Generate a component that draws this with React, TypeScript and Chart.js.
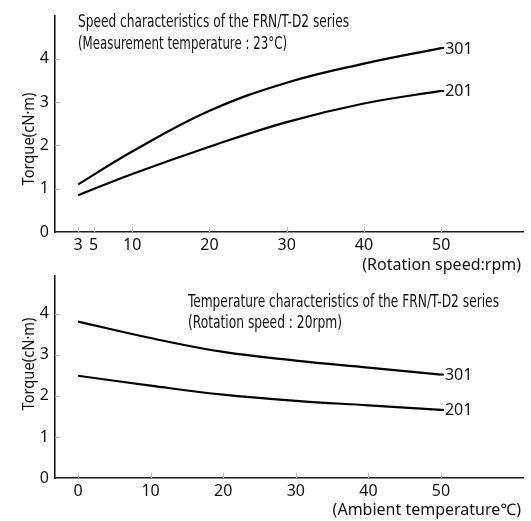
import React, { useEffect, useRef } from "react";
import { Chart, registerables } from "chart.js";

Chart.register(...registerables);

// ---- Data: speed characteristics (top) ----
const speedRpm = [3, 10, 20, 30, 40, 50];
const speedTorque301 = [1.1, 1.86, 2.8, 3.45, 3.89, 4.25];
const speedTorque201 = [0.85, 1.34, 1.97, 2.54, 2.97, 3.26];
const speedXTicks = [3, 5, 10, 20, 30, 40, 50];

// ---- Data: temperature characteristics (bottom) ----
const ambientTemp = [0, 10, 20, 30, 40, 50];
const tempTorque301 = [3.81, 3.41, 3.07, 2.86, 2.69, 2.52];
const tempTorque201 = [2.49, 2.25, 2.03, 1.88, 1.77, 1.66];
const tempXTicks = [0, 10, 20, 30, 40, 50];

const yTicks = [0, 1, 2, 3, 4];
const seriesNames = ["301", "201"];

const TICK_FONT = "'Noto Sans', 'DejaVu Sans', sans-serif";
const NARROW_FONT = "'Liberation Sans Narrow', 'DejaVu Sans Condensed', 'Noto Sans', sans-serif";

type TextItem = {
  text: string;
  x: number;
  y: number;
  font: string;
  align: CanvasTextAlign;
  maxWidth?: number;
  rotate?: boolean;
};

function makeAnnotPlugin(texts: TextItem[]) {
  return {
    id: "annot",
    afterDraw(chart: any) {
      const ctx: CanvasRenderingContext2D = chart.ctx;
      const xs = chart.scales.x;
      const ys = chart.scales.y;
      const area = chart.chartArea;
      ctx.save();
      // faint inner tick marks
      ctx.strokeStyle = "#b8b8b8";
      ctx.lineWidth = 1.2;
      xs.ticks.forEach((t: any) => {
        const px = Math.round(xs.getPixelForValue(t.value)) + 0.5;
        ctx.beginPath();
        ctx.moveTo(px, area.bottom);
        ctx.lineTo(px, area.bottom - 5);
        ctx.stroke();
      });
      ys.ticks.forEach((t: any) => {
        if (t.value === 0) return;
        const py = Math.round(ys.getPixelForValue(t.value)) + 0.5;
        ctx.beginPath();
        ctx.moveTo(area.left, py);
        ctx.lineTo(area.left + 5, py);
        ctx.stroke();
      });
      // series end labels
      ctx.fillStyle = "#111";
      ctx.font = `16px ${TICK_FONT}`;
      ctx.textAlign = "left";
      ctx.textBaseline = "middle";
      chart.data.datasets.forEach((ds: any, i: number) => {
        const last = ds.data[ds.data.length - 1];
        const px = xs.getPixelForValue(last.x);
        const py = ys.getPixelForValue(last.y);
        ctx.strokeStyle = "#000";
        ctx.lineWidth = 2;
        ctx.beginPath();
        ctx.moveTo(px, py);
        ctx.lineTo(px + 3, py);
        ctx.stroke();
        ctx.fillText(seriesNames[i], px + 4, py + 1);
      });
      // free texts
      texts.forEach((t) => {
        ctx.save();
        ctx.font = t.font;
        ctx.fillStyle = "#111";
        ctx.textAlign = t.align;
        ctx.textBaseline = "middle";
        if (t.rotate) {
          ctx.translate(t.x, t.y);
          ctx.rotate(-Math.PI / 2);
          if (t.maxWidth) ctx.fillText(t.text, 0, 0, t.maxWidth);
          else ctx.fillText(t.text, 0, 0);
        } else {
          if (t.maxWidth) ctx.fillText(t.text, t.x, t.y, t.maxWidth);
          else ctx.fillText(t.text, t.x, t.y);
        }
        ctx.restore();
      });
      ctx.restore();
    },
  };
}

function buildConfig(
  xs: number[],
  s301: number[],
  s201: number[],
  xTicks: number[],
  xMin: number,
  xMax: number,
  yMax: number,
  padTop: number,
  xAxisHeight: number,
  texts: TextItem[]
): any {
  const toPts = (arr: number[]) => xs.map((x, i) => ({ x, y: arr[i] }));
  const lineStyle = {
    borderColor: "#000",
    borderWidth: 2.2,
    pointRadius: 0,
    fill: false,
    tension: 0.4,
  };
  return {
    type: "line",
    data: {
      datasets: [
        { label: seriesNames[0], data: toPts(s301), ...lineStyle },
        { label: seriesNames[1], data: toPts(s201), ...lineStyle },
      ],
    },
    options: {
      responsive: false,
      animation: false,
      events: [],
      layout: { padding: { top: padTop, right: 8, left: 0, bottom: 0 } },
      plugins: { legend: { display: false }, tooltip: { enabled: false }, title: { display: false } },
      scales: {
        x: {
          type: "linear",
          min: xMin,
          max: xMax,
          afterBuildTicks: (s: any) => {
            s.ticks = xTicks.map((v) => ({ value: v }));
          },
          afterFit: (s: any) => {
            s.height = xAxisHeight;
          },
          grid: { display: false, drawTicks: false },
          border: { display: true, color: "#1a1a1a", width: 1.6 },
          ticks: {
            padding: 4,
            color: "#111",
            font: { family: TICK_FONT, size: 16 },
            maxRotation: 0,
            autoSkip: false,
            callback: (v: any) => String(v),
          },
        },
        y: {
          type: "linear",
          min: 0,
          max: yMax,
          afterBuildTicks: (s: any) => {
            s.ticks = yTicks.map((v) => ({ value: v }));
          },
          afterFit: (s: any) => {
            s.width = 55;
          },
          grid: { display: false, drawTicks: false },
          border: { display: true, color: "#1a1a1a", width: 1.6 },
          ticks: {
            padding: 6,
            color: "#111",
            font: { family: TICK_FONT, size: 16 },
            callback: (v: any) => String(v),
          },
        },
      },
    },
    plugins: [makeAnnotPlugin(texts)],
  };
}

function ChartCanvas({ config, top, height }: { config: any; top: number; height: number }) {
  const ref = useRef<HTMLCanvasElement | null>(null);
  useEffect(() => {
    if (!ref.current) return;
    const chart = new Chart(ref.current, config);
    return () => chart.destroy();
  }, [config]);
  return (
    <canvas
      ref={ref}
      width={531}
      height={height}
      style={{ position: "absolute", left: 0, top, width: 531, height }}
    />
  );
}

const topTexts: TextItem[] = [
  { text: "Speed characteristics of the FRN/T-D2 series", x: 78, y: 23, font: `17px ${NARROW_FONT}`, align: "left", maxWidth: 271 },
  { text: "(Measurement temperature : 23°C)", x: 78, y: 45, font: `17px ${NARROW_FONT}`, align: "left", maxWidth: 209 },
  { text: "(Rotation speed:rpm)", x: 521, y: 265, font: `16px ${TICK_FONT}`, align: "right", maxWidth: 174 },
  { text: "Torque(cN·m)", x: 29, y: 139, font: `17px ${TICK_FONT}`, align: "center", maxWidth: 93, rotate: true },
];

const bottomTexts: TextItem[] = [
  { text: "Temperature characteristics of the FRN/T-D2 series", x: 188, y: 43, font: `17px ${NARROW_FONT}`, align: "left", maxWidth: 311 },
  { text: "(Rotation speed : 20rpm)", x: 188, y: 64, font: `17px ${NARROW_FONT}`, align: "left", maxWidth: 154 },
  { text: "(Ambient temperature℃)", x: 521, y: 250, font: `16px ${TICK_FONT}`, align: "right", maxWidth: 200 },
  { text: "Torque(cN·m)", x: 29, y: 104, font: `17px ${TICK_FONT}`, align: "center", maxWidth: 93, rotate: true },
];

const topConfig = buildConfig(speedRpm, speedTorque301, speedTorque201, speedXTicks, 0, 60.6, 5, 15, 280 - 232, topTexts);
const bottomConfig = buildConfig(ambientTemp, tempTorque301, tempTorque201, tempXTicks, -3.17, 61.3, 4.93, 6, 261 - 218, bottomTexts);

export default function App() {
  return (
    <div style={{ position: "fixed", left: 0, top: 0, width: 531, height: 521, background: "#fff" }}>
      <ChartCanvas config={topConfig} top={0} height={280} />
      <ChartCanvas config={bottomConfig} top={260} height={261} />
    </div>
  );
}
